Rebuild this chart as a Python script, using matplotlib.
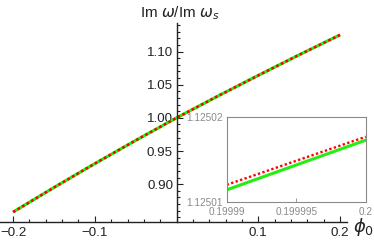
import numpy as np
import matplotlib
matplotlib.use("Agg")
import matplotlib.pyplot as plt
from matplotlib.ticker import MultipleLocator

GREEN = "#22ee11"
RED = "#ff0000"
BLACK = "#222222"
GREY = "#8a8a8a"

# main curve
phi0 = [-0.2, -0.15, -0.1, -0.05, 0.0, 0.05, 0.1, 0.15, 0.2]
im_ratio = [0.858, 0.895, 0.931, 0.966, 1.000, 1.0325, 1.064, 1.095, 1.125]

# inset (zoom near phi0 = 0.2)
inset_phi = [0.19999, 0.2]
inset_green = [1.1250114, 1.1250173]
inset_red = [1.1250120, 1.1250177]

xticks = [-0.2, -0.1, 0.1, 0.2]
xticklabels = ["\u22120.2", "\u22120.1", "0.1", "0.2"]
yticks = [0.90, 0.95, 1.00, 1.05, 1.10]
inset_xticks = [0.19999, 0.199995, 0.2]
inset_xlabels = ["0.19999", "0.199995", "0.2"]
inset_yticks = [1.12501, 1.12502]
inset_ylabels = ["1.12501", "1.12502"]

plt.rcParams.update({
    "font.family": "sans-serif",
    "font.sans-serif": ["Liberation Sans", "DejaVu Sans"],
    "mathtext.fontset": "dejavusans",
})

fig = plt.figure(figsize=(3.74, 2.43), dpi=100)
ax = fig.add_axes([0.0, 0.0864, 0.928, 0.819])
ax.set_xlim(-0.216, 0.2086)
ax.set_ylim(0.843, 1.143)

ax.plot(phi0, im_ratio, color=GREEN, lw=2.2, solid_capstyle="butt")
ax.plot(phi0, im_ratio, color=RED, lw=1.9, ls=(0, (1, 1)), dash_capstyle="butt")

ax.spines["top"].set_visible(False)
ax.spines["right"].set_visible(False)
ax.spines["left"].set_position(("data", 0))
for s in ("left", "bottom"):
    ax.spines[s].set_linewidth(1.0)
    ax.spines[s].set_color(BLACK)

ax.set_xticks(xticks)
ax.set_xticklabels(xticklabels)
ax.set_yticks(yticks)
ax.set_yticklabels([f"{v:.2f}" for v in yticks])
ax.xaxis.set_minor_locator(MultipleLocator(0.02))
ax.yaxis.set_minor_locator(MultipleLocator(0.01))
ax.tick_params(which="both", direction="in", colors=BLACK, labelsize=9.6, width=0.8)
ax.tick_params(which="major", length=4)
ax.tick_params(which="minor", length=2.2)
ax.tick_params(axis="x", pad=3.5)
ax.tick_params(axis="y", pad=2.5)

fig.text(0.481, 0.947, r"Im $\omega$/Im $\omega_s$", ha="center", va="center",
         fontsize=11, color=BLACK)
fig.text(0.971, 0.064, r"$\phi_0$", ha="center", va="center", fontsize=13, color=BLACK)

# inset
axi = fig.add_axes([0.606, 0.170, 0.372, 0.347])
axi.plot(inset_phi, inset_green, color=GREEN, lw=2.2)
axi.plot(inset_phi, inset_red, color=RED, lw=1.7, ls=(0, (1, 1)), dash_capstyle="butt")
axi.set_xlim(inset_xticks[0], inset_xticks[-1])
axi.set_ylim(inset_yticks[0], inset_yticks[-1])
for s in axi.spines.values():
    s.set_color(GREY)
    s.set_linewidth(0.8)
axi.set_xticks(inset_xticks)
axi.set_xticklabels(inset_xlabels)
axi.set_yticks(inset_yticks)
axi.set_yticklabels(inset_ylabels)
axi.tick_params(direction="in", colors=GREY, labelcolor=GREY, labelsize=7.2,
                length=3, width=0.6, pad=2.5)
axi.tick_params(axis="x", pad=3.5)

fig.savefig("out.png", dpi=100)
